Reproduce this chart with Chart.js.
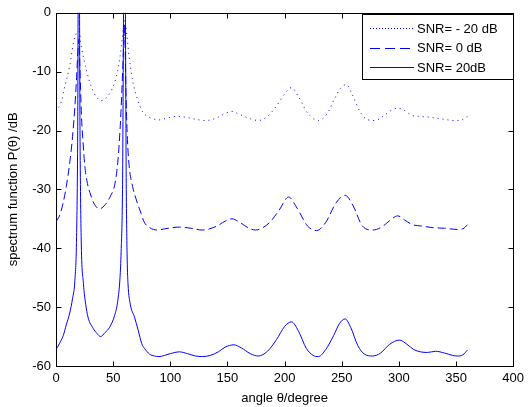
<!DOCTYPE html>
<html>
<head>
<meta charset="utf-8">
<script src="https://cdn.jsdelivr.net/npm/chart.js@4.4.1/dist/chart.umd.min.js"></script>
<style>
  html, body { margin: 0; padding: 0; background: #fff; }
  #wrap { width: 529px; height: 407px; }
</style>
</head>
<body>
<div id="wrap"><canvas id="mainChart" width="529" height="407"></canvas></div>
<script>
// SNR = -20 dB (dotted)
const anglesLow = [0, 5, 7.2, 9.3, 12, 15.6, 18, 20, 22.3, 26.7, 31, 35, 39.7, 43, 47, 51, 54, 56, 58, 60, 62, 64, 67, 71, 75.6, 80, 85, 90, 97, 105, 112, 120, 131, 140, 148, 154, 160, 170, 177, 185, 193, 200, 206, 212, 220, 229.6, 237, 244, 249, 254, 259, 266, 272, 279, 286, 293, 299, 305, 311, 317, 325, 333, 340, 348, 355, 360];
const powerLow = [-16.8, -14.9, -12.9, -11.3, -9, -4.8, -3.4, -3.1, -5.9, -9.8, -12.6, -14.2, -14.9, -14.6, -13.7, -12, -9.8, -7.5, -4.2, -1.2, -3.8, -7.5, -11.5, -14.5, -16.75, -17.6, -18, -18.2, -17.9, -17.6, -17.7, -18, -18.3, -17.9, -17.1, -16.75, -17.2, -18, -18.3, -17.6, -15.8, -13.8, -12.7, -14.2, -17, -18.3, -17.2, -14.5, -12.8, -12.2, -13.8, -16.8, -18.1, -18.3, -17.6, -16.6, -16.2, -16.6, -17.4, -17.6, -17.7, -17.9, -18.1, -18.3, -18.2, -17.6];

// SNR = 0 dB (dashed)
const anglesMid = [0, 3, 6, 9, 12, 14.5, 16.5, 18, 19.3, 20, 20.7, 21.5, 22.3, 23.5, 25.2, 27.5, 29.6, 33, 38, 43, 48, 51.3, 54, 56, 57.5, 58.5, 59.5, 60, 60.5, 61.4, 62.5, 64, 67, 70, 74.5, 77, 82, 88.5, 98, 108, 118, 128, 140, 148, 154, 160, 168, 174.5, 180, 187, 195, 203.5, 211, 220, 228, 236, 245, 253, 260, 268, 277, 285, 292, 299, 305, 312, 319, 330, 340, 351, 356, 360];
const powerMid = [-35.5, -34.5, -32.5, -29.5, -25.5, -21, -16, -11, -6, -4.5, -8, -13, -17.6, -21.5, -26, -29, -30.5, -32.3, -33.3, -32.6, -31, -29.3, -25.5, -20, -14, -9, -4, -2, -6, -15, -21.5, -26, -29.5, -31.6, -34.1, -35.5, -36.5, -36.9, -36.6, -36.4, -36.6, -36.9, -36.3, -35.4, -35, -35.5, -36.5, -36.9, -36.6, -35.6, -33.6, -31.3, -33.2, -36.2, -37, -35.6, -32.3, -31, -32.8, -36.2, -36.9, -36.4, -35.3, -34.5, -35.2, -36, -36.2, -36.5, -36.6, -36.8, -36.7, -36];

// SNR = 20 dB (solid)
const anglesHigh = [0, 3, 6.4, 9, 12, 14.5, 16.5, 18, 19, 19.6, 20.3, 21, 22, 24, 26, 28, 32.5, 36, 39, 43, 47, 51.3, 54, 56, 57, 58.2, 59.6, 60.3, 61.5, 62.3, 63, 65, 68.7, 72, 75, 77.4, 82, 86, 90, 95, 100, 108, 115, 122, 128, 135, 142, 148, 155.6, 162, 170, 177, 185, 193, 200, 206, 212, 219, 225, 229.6, 236, 243, 248, 253, 258, 264, 270, 277, 284, 292, 300.6, 307, 313, 319, 325, 332, 340, 347, 351, 356, 360];
const powerHigh = [-57.2, -56.2, -54.8, -53, -51, -48.5, -45.5, -38, -20, 10, 10, -20, -38, -46, -49.5, -51.7, -53.6, -54.5, -55, -54.3, -53.4, -51.4, -49, -45, -40.5, -30, 10, 10, -30, -42, -46, -49.5, -51.7, -54, -56.2, -57, -58, -58.3, -58.4, -58.2, -57.9, -57.6, -57.9, -58.3, -58.4, -58.2, -57.6, -56.8, -56.4, -56.9, -57.9, -58.3, -57.5, -55.5, -53.3, -52.5, -54, -57, -58.2, -58.4, -57.2, -54.8, -52.8, -52, -53.5, -56.5, -58, -58.3, -57.8, -56.3, -55.6, -56.3, -57.2, -57.6, -57.7, -57.5, -57.8, -58.2, -58.3, -58.1, -57.3];

const xTicks = [0, 50, 100, 150, 200, 250, 300, 350, 400];
const yTicks = [-60, -50, -40, -30, -20, -10, 0];
const seriesLabels = ["SNR= - 20 dB", "SNR= 0 dB", "SNR= 20dB"];

const fontFamily = "'Liberation Sans', Arial, Helvetica, sans-serif";

function toPoints(xs, ys) {
  return xs.map((x, i) => ({ x: x, y: ys[i] }));
}

// box around the axes with inward tick marks on all four sides
const axesBox = {
  id: "axesBox",
  beforeDatasetsDraw(chart) {
    const { ctx, chartArea: a, scales } = chart;
    const L = Math.round(a.left) + 0.5, R = Math.round(a.right) + 0.5;
    const T = Math.round(a.top) + 0.5, B = Math.round(a.bottom) + 0.5;
    ctx.save();
    ctx.strokeStyle = "#000";
    ctx.lineWidth = 1;
    ctx.strokeRect(L, T, R - L, B - T);
    ctx.beginPath();
    xTicks.forEach((v) => {
      const px = Math.round(scales.x.getPixelForValue(v)) + 0.5;
      ctx.moveTo(px, B); ctx.lineTo(px, B - 5);
      ctx.moveTo(px, T); ctx.lineTo(px, T + 5);
    });
    yTicks.forEach((v) => {
      const py = Math.round(scales.y.getPixelForValue(v)) + 0.5;
      ctx.moveTo(L, py); ctx.lineTo(L + 5, py);
      ctx.moveTo(R, py); ctx.lineTo(R - 5, py);
    });
    ctx.stroke();
    ctx.restore();
  },
};

// matlab style legend box in the top right corner
const boxLegend = {
  id: "boxLegend",
  afterDraw(chart) {
    const { ctx } = chart;
    const left = 362, top = 14, width = 151, height = 65;
    ctx.save();
    ctx.fillStyle = "#fff";
    ctx.fillRect(left, top, width, height);
    ctx.strokeStyle = "#000";
    ctx.lineWidth = 1;
    ctx.strokeRect(left + 0.5, top + 0.5, width, height);
    chart.data.datasets.forEach((ds, i) => {
      const y = top + 14 + i * 19.5;
      ctx.beginPath();
      ctx.setLineDash(ds.legendDash || []);
      ctx.strokeStyle = ds.borderColor;
      ctx.lineWidth = 1;
      ctx.moveTo(370, Math.round(y) + 0.5);
      ctx.lineTo(414, Math.round(y) + 0.5);
      ctx.stroke();
      ctx.setLineDash([]);
      ctx.fillStyle = "#000";
      ctx.font = "13px " + fontFamily;
      ctx.textBaseline = "middle";
      ctx.textAlign = "left";
      ctx.fillText(ds.label, 417, y + 1);
    });
    ctx.restore();
  },
};

new Chart(document.getElementById("mainChart").getContext("2d"), {
  type: "line",
  data: {
    datasets: [
      {
        label: seriesLabels[0],
        data: toPoints(anglesLow, powerLow),
        borderColor: "#0000ff",
        borderWidth: 1,
        borderDash: [1, 4],
        legendDash: [1, 2],
        pointRadius: 0,
        cubicInterpolationMode: "monotone",
      },
      {
        label: seriesLabels[1],
        data: toPoints(anglesMid, powerMid),
        borderColor: "#0000ff",
        borderWidth: 1,
        borderDash: [8, 4],
        legendDash: [10, 5],
        pointRadius: 0,
        cubicInterpolationMode: "monotone",
      },
      {
        label: seriesLabels[2],
        data: toPoints(anglesHigh, powerHigh),
        borderColor: "#0000ff",
        borderWidth: 1,
        pointRadius: 0,
        cubicInterpolationMode: "monotone",
      },
    ],
  },
  options: {
    responsive: false,
    animation: false,
    layout: { padding: { left: 0, top: 8, right: 13, bottom: 0 } },
    plugins: {
      legend: { display: false },
      tooltip: { enabled: false },
    },
    scales: {
      x: {
        type: "linear",
        min: 0,
        max: 400,
        grid: { display: false, drawTicks: false },
        border: { display: false },
        afterFit: (scale) => { scale.height = 41; },
        afterBuildTicks: (scale) => { scale.ticks = xTicks.map((v) => ({ value: v })); },
        ticks: { color: "#000", padding: 5, maxRotation: 0, font: { size: 13, family: fontFamily } },
        title: {
          display: true,
          text: "angle θ/degree",
          color: "#000",
          padding: { top: 0, bottom: 1 },
          font: { size: 13, family: fontFamily },
        },
      },
      y: {
        min: -60,
        max: 0,
        grid: { display: false, drawTicks: false },
        border: { display: false },
        afterFit: (scale) => { scale.width = 56; },
        afterBuildTicks: (scale) => { scale.ticks = yTicks.map((v) => ({ value: v })); },
        ticks: { color: "#000", padding: 5, font: { size: 13, family: fontFamily } },
        title: {
          display: true,
          text: "spectrum function P(θ) /dB",
          color: "#000",
          padding: { top: 6, bottom: 0 },
          font: { size: 13, family: fontFamily },
        },
      },
    },
  },
  plugins: [axesBox, boxLegend],
});
</script>
</body>
</html>
